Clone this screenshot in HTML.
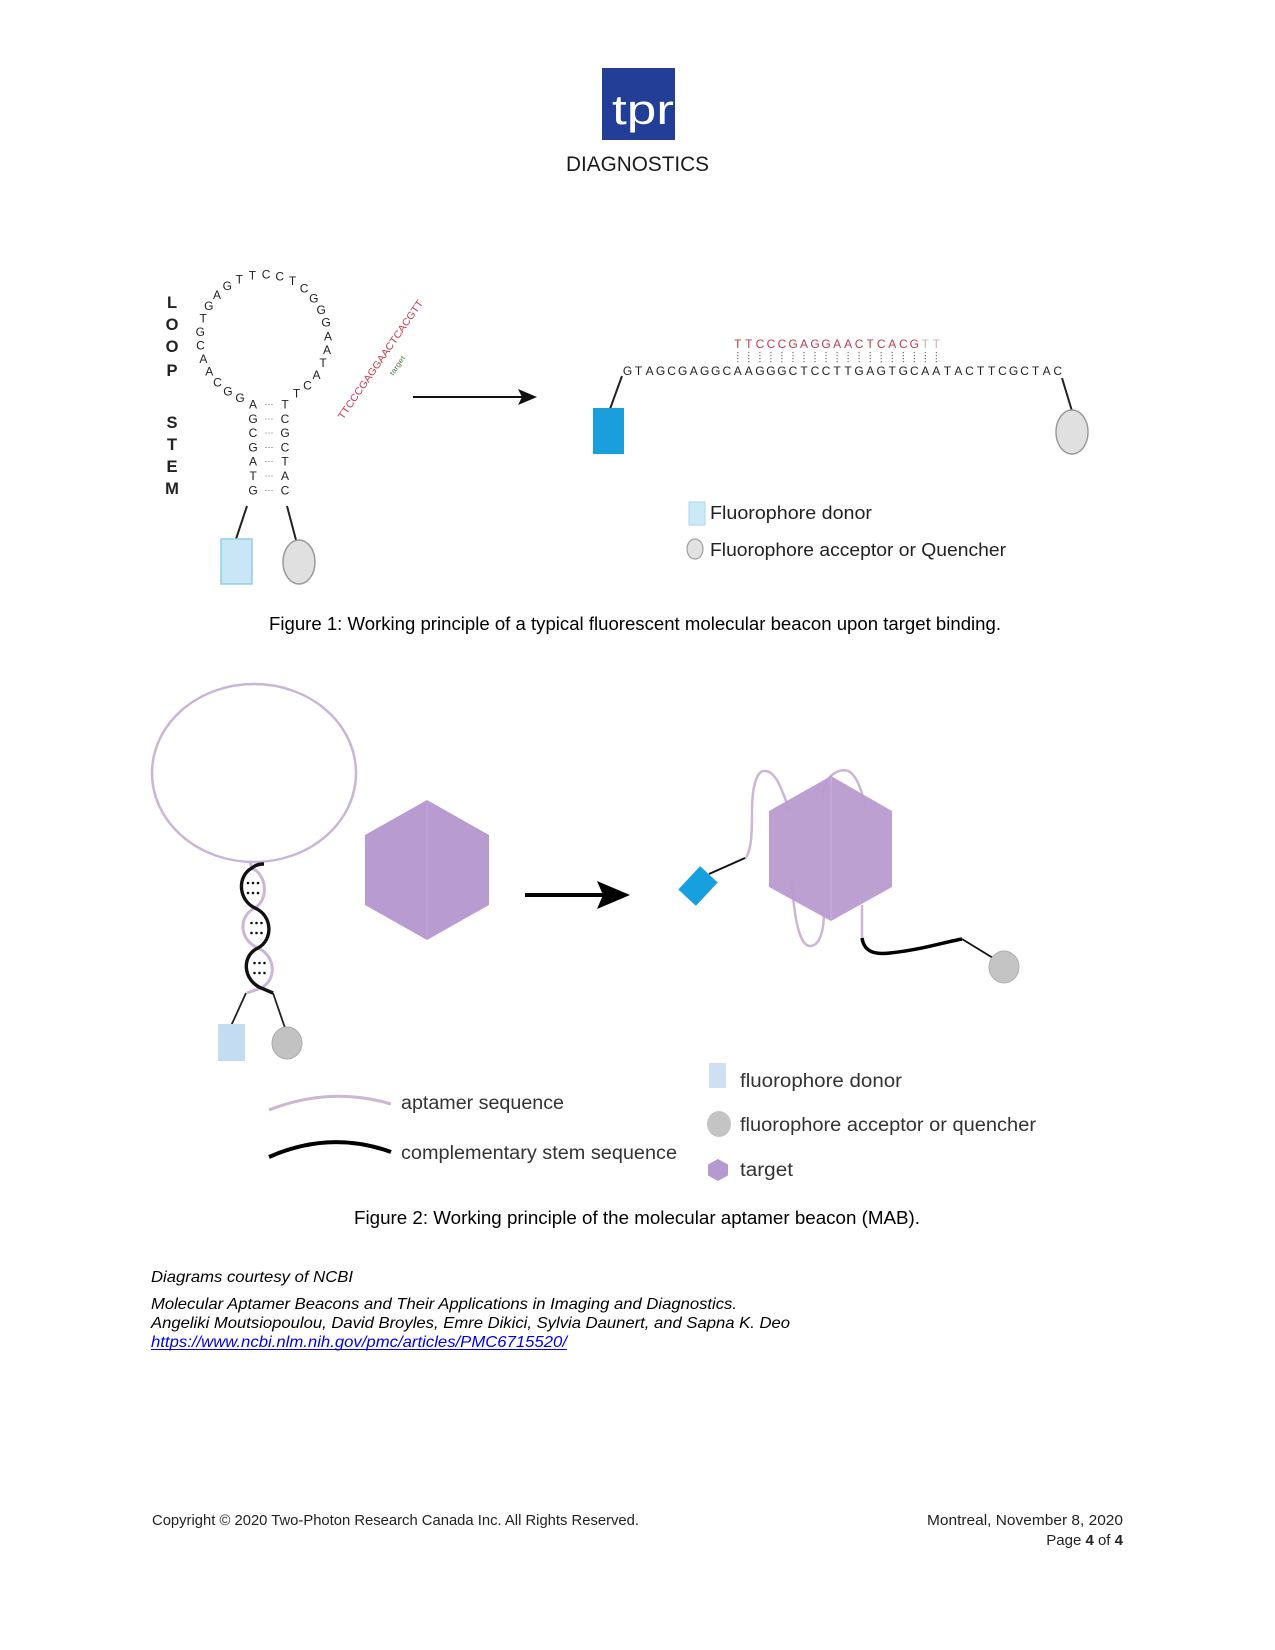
<!DOCTYPE html>
<html><head><meta charset="utf-8"><style>html,body{margin:0;padding:0;background:#fff}svg{display:block}</style></head>
<body>
<svg width="1275" height="1650" viewBox="0 0 1275 1650" xmlns="http://www.w3.org/2000/svg" font-family="Liberation Sans, Arial, sans-serif">
<rect width="1275" height="1650" fill="#fff"/>

<!-- Logo -->
<rect x="602" y="68" width="73" height="72" fill="#223e96"/>
<text x="612" y="124" font-size="42" fill="#fff" textLength="62" lengthAdjust="spacingAndGlyphs">tpr</text>
<text x="566" y="171" font-size="21" fill="#1a1a1a" textLength="143" lengthAdjust="spacingAndGlyphs">DIAGNOSTICS</text>

<!-- Figure 1 left -->
<g font-weight="bold" font-size="16.5" fill="#222" text-anchor="middle">
<text x="172" y="308">L</text><text x="172" y="330">O</text><text x="172" y="352">O</text><text x="172" y="376">P</text>
<text x="172" y="428">S</text><text x="172" y="450">T</text><text x="172" y="472">E</text><text x="172" y="494">M</text>
</g>
<text font-size="12" fill="#222" text-anchor="middle"
 x="240.0 227.9 217.5 209.2 203.4 200.4 200.3 203.2 208.8 217.0 227.3 239.3 252.4 266.1 279.7 292.6 304.1 313.8 321.2 326.0 328.0 327.0 323.1 316.5 307.5 296.5"
 y="401.8 395.4 386.5 375.6 363.1 349.7 336.0 322.6 310.1 299.1 290.1 283.5 279.5 278.5 280.5 285.2 292.6 302.3 313.8 326.7 340.3 353.9 367.1 379.1 389.5 397.6">GGCAACGTGAGTTCCTCGGGAATACT</text>
<text font-size="12" fill="#222" text-anchor="middle" x="253 253 253 253 253 253 253" y="408.5 422.8 437.1 451.4 465.7 480 494.3">AGCGATG</text>
<text font-size="12" fill="#222" text-anchor="middle" x="285 285 285 285 285 285 285" y="408.5 422.8 437.1 451.4 465.7 480 494.3">TCGCTAC</text>
<g font-size="9" fill="#555" text-anchor="middle">
<text x="269" y="407">···</text><text x="269" y="421.3">···</text><text x="269" y="435.6">···</text><text x="269" y="449.9">···</text><text x="269" y="464.2">···</text><text x="269" y="478.5">···</text><text x="269" y="492.8">···</text>
</g>
<line x1="247" y1="506" x2="236" y2="539" stroke="#222" stroke-width="2"/>
<line x1="287" y1="506" x2="296" y2="540" stroke="#222" stroke-width="2"/>
<rect x="221" y="539" width="31" height="45" fill="#c8e6f5" stroke="#93cde3" stroke-width="1.5"/>
<ellipse cx="299" cy="562" rx="16" ry="22" fill="#e0e0e0" stroke="#9a9a9a" stroke-width="1.5"/>

<text transform="translate(343,420) rotate(-55.5)" font-size="10" fill="#cc3a4b" textLength="142" lengthAdjust="spacingAndGlyphs">TTCCCGAGGAACTCACGTT</text>
<text transform="translate(393,376) rotate(-55.5)" font-size="7" fill="#4f7f4f" textLength="22" lengthAdjust="spacingAndGlyphs">target</text>

<!-- Figure 1 arrow -->
<line x1="413" y1="397" x2="524" y2="397" stroke="#111" stroke-width="2"/>
<polygon points="518,389 537,397 518,405 522,397" fill="#111"/>

<!-- Figure 1 right -->
<line x1="610" y1="409" x2="622" y2="376" stroke="#222" stroke-width="2"/>
<rect x="593" y="408" width="31" height="46" fill="#1a9fdc"/>
<text font-size="12" fill="#222" text-anchor="middle" y="375"
 x="627.5 638.5 649.6 660.6 671.6 682.7 693.7 704.7 715.7 726.8 737.8 748.8 759.9 770.9 781.9 793.0 804.0 815.0 826.0 837.1 848.1 859.1 870.2 881.2 892.2 903.3 914.3 925.3 936.3 947.4 958.4 969.4 980.5 991.5 1002.5 1013.6 1024.6 1035.6 1046.6 1057.7">GTAGCGAGGCAAGGGCTCCTTGAGTGCAATACTTCGCTAC</text>
<text font-size="12" fill="#c23a4a" text-anchor="middle" y="348"
 x="737.8 748.8 759.9 770.9 781.9 793.0 804.0 815.0 826.0 837.1 848.1 859.1 870.2 881.2 892.2 903.3 914.3">TTCCCGAGGAACTCACG</text>
<text font-size="12" fill="#c9b4b6" text-anchor="middle" y="348" x="925.3 936.3">TT</text>
<path d="M737.8 352V363M748.8 352V363M759.9 352V363M770.9 352V363M781.9 352V363M793 352V363M804 352V363M815 352V363M826 352V363M837.1 352V363M848.1 352V363M859.1 352V363M870.2 352V363M881.2 352V363M892.2 352V363M903.3 352V363M914.3 352V363M925.3 352V363M936.3 352V363" stroke="#555" stroke-width="1" stroke-dasharray="1.2 1.8"/>
<line x1="1062" y1="378" x2="1072" y2="411" stroke="#222" stroke-width="2"/>
<ellipse cx="1072" cy="432" rx="16" ry="22" fill="#e0e0e0" stroke="#9a9a9a" stroke-width="1.5"/>

<!-- Figure 1 legend -->
<rect x="689" y="502" width="16" height="23" fill="#cde9f7" stroke="#a8d6ec" stroke-width="1"/>
<text x="710" y="519" font-size="18" fill="#222" textLength="162" lengthAdjust="spacingAndGlyphs">Fluorophore donor</text>
<ellipse cx="695" cy="549" rx="8" ry="10" fill="#e2e2e2" stroke="#a0a0a0" stroke-width="1.2"/>
<text x="710" y="556" font-size="18" fill="#222" textLength="296" lengthAdjust="spacingAndGlyphs">Fluorophore acceptor or Quencher</text>

<text x="269" y="630" font-size="18.5" fill="#000" textLength="732" lengthAdjust="spacingAndGlyphs">Figure 1: Working principle of a typical fluorescent molecular beacon upon target binding.</text>

<!-- Figure 2 left -->
<ellipse cx="254" cy="773" rx="102" ry="89" fill="none" stroke="#c9b5d8" stroke-width="2.5"/>
<path d="M250,862 L252,868 C268,876 268,900 255,908 C238,916 239,940 258,948 C276,956 277,980 261,988 L247,993" fill="none" stroke="#cbb6d6" stroke-width="3"/>
<path d="M264,864 C258,864 254,866 252,868 C237,876 238,900 255,908 C273,916 273,940 258,948 C241,956 243,980 261,988 L273,993" fill="none" stroke="#111" stroke-width="3.4"/>
<g fill="#111">
<circle cx="248" cy="883" r="1.3"/><circle cx="253" cy="883" r="1.3"/><circle cx="258" cy="883" r="1.3"/>
<circle cx="248" cy="893" r="1.3"/><circle cx="253" cy="893" r="1.3"/><circle cx="258" cy="893" r="1.3"/>
<circle cx="251.5" cy="923" r="1.3"/><circle cx="256.5" cy="923" r="1.3"/><circle cx="261.5" cy="923" r="1.3"/>
<circle cx="251.5" cy="933" r="1.3"/><circle cx="256.5" cy="933" r="1.3"/><circle cx="261.5" cy="933" r="1.3"/>
<circle cx="254.5" cy="963" r="1.3"/><circle cx="259.5" cy="963" r="1.3"/><circle cx="264.5" cy="963" r="1.3"/>
<circle cx="254.5" cy="973" r="1.3"/><circle cx="259.5" cy="973" r="1.3"/><circle cx="264.5" cy="973" r="1.3"/>
</g>
<line x1="246" y1="993" x2="231" y2="1026" stroke="#222" stroke-width="1.8"/>
<line x1="273" y1="993" x2="285" y2="1028" stroke="#222" stroke-width="1.8"/>
<rect x="218" y="1024" width="27" height="37" fill="#c3dcf2"/>
<ellipse cx="287" cy="1043" rx="15" ry="16" fill="#c2c2c2" stroke="#aaa" stroke-width="1"/>

<polygon points="427,800 489,835 489,905 427,940 365,905 365,835" fill="#b89bd0"/>
<line x1="427" y1="802" x2="427" y2="938" stroke="#c2a6d8" stroke-width="2" opacity="0.6"/>

<!-- Figure 2 arrow -->
<line x1="525" y1="895" x2="603" y2="895" stroke="#000" stroke-width="4"/>
<polygon points="597,881 630,895 597,909 603,895" fill="#000"/>

<!-- Figure 2 right -->
<path d="M745,859 C752,850 752,830 752,810 C752,790 756,771 764,771 C776,770 782,790 790,812" fill="none" stroke="#cbb6d6" stroke-width="2.5"/>
<path d="M822,800 C822,776 840,766 850,772 C858,778 862,792 866,808" fill="none" stroke="#cbb6d6" stroke-width="2.5"/>
<path d="M792,880 C794,920 800,946 810,946 C820,946 824,930 824,912" fill="none" stroke="#cbb6d6" stroke-width="2.5"/>
<polygon points="831,776 892,811 892,887 831,921 769,887 769,811" fill="#b99bd0" opacity="0.95"/>
<line x1="831" y1="778" x2="831" y2="919" stroke="#c8aede" stroke-width="2" opacity="0.6"/>
<path d="M862,905 L862,940" fill="none" stroke="#cbb6d6" stroke-width="2.5"/>
<path d="M862,938 C864,952 875,955 890,953 C920,950 945,942 962,939" fill="none" stroke="#000" stroke-width="3.5"/>
<line x1="962" y1="939" x2="993" y2="958" stroke="#111" stroke-width="1.8"/>
<ellipse cx="1004" cy="967" rx="15" ry="16" fill="#c4c4c4" stroke="#b0b0b0" stroke-width="1"/>
<line x1="709" y1="874" x2="745" y2="858" stroke="#111" stroke-width="1.8"/>
<rect x="686" y="870" width="24" height="32" fill="#16a0e0" transform="rotate(43 698 886)"/>

<!-- Figure 2 legend -->
<path d="M269,1110 Q330,1086 391,1104" fill="none" stroke="#cbb6d6" stroke-width="3"/>
<text x="401" y="1109" font-size="19" fill="#333" textLength="163" lengthAdjust="spacingAndGlyphs">aptamer sequence</text>
<path d="M269,1157 Q330,1130 391,1152" fill="none" stroke="#000" stroke-width="4"/>
<text x="401" y="1159" font-size="19" fill="#333" textLength="276" lengthAdjust="spacingAndGlyphs">complementary stem sequence</text>

<rect x="709" y="1063" width="17" height="25" fill="#cfe0f3"/>
<text x="740" y="1087" font-size="19" fill="#333" textLength="162" lengthAdjust="spacingAndGlyphs">fluorophore donor</text>
<ellipse cx="719" cy="1124" rx="12" ry="13" fill="#c4c4c4"/>
<text x="740" y="1131" font-size="19" fill="#333" textLength="296" lengthAdjust="spacingAndGlyphs">fluorophore acceptor or quencher</text>
<polygon points="718,1159 728,1164.5 728,1175.5 718,1181 708,1175.5 708,1164.5" fill="#b49acf"/>
<text x="740" y="1176" font-size="19" fill="#333" textLength="53" lengthAdjust="spacingAndGlyphs">target</text>

<text x="354" y="1224" font-size="18.5" fill="#000" textLength="566" lengthAdjust="spacingAndGlyphs">Figure 2: Working principle of the molecular aptamer beacon (MAB).</text>

<!-- References -->
<g font-style="italic" font-size="16" fill="#000">
<text x="151" y="1282" textLength="202" lengthAdjust="spacingAndGlyphs">Diagrams courtesy of NCBI</text>
<text x="151" y="1309" textLength="586" lengthAdjust="spacingAndGlyphs">Molecular Aptamer Beacons and Their Applications in Imaging and Diagnostics.</text>
<text x="151" y="1328" textLength="639" lengthAdjust="spacingAndGlyphs">Angeliki Moutsiopoulou, David Broyles, Emre Dikici, Sylvia Daunert, and Sapna K. Deo</text>
<text x="151" y="1347" fill="#0000ee" textLength="416" lengthAdjust="spacingAndGlyphs">https://www.ncbi.nlm.nih.gov/pmc/articles/PMC6715520/</text>
</g>
<line x1="151" y1="1349.5" x2="567" y2="1349.5" stroke="#0000ee" stroke-width="1"/>

<!-- Footer -->
<text x="152" y="1525" font-size="15" fill="#222" textLength="487" lengthAdjust="spacingAndGlyphs">Copyright © 2020 Two-Photon Research Canada Inc. All Rights Reserved.</text>
<text x="1123" y="1525" font-size="15" fill="#222" text-anchor="end" textLength="196" lengthAdjust="spacingAndGlyphs">Montreal, November 8, 2020</text>
<text x="1123" y="1545" font-size="15" fill="#222" text-anchor="end">Page <tspan font-weight="bold">4</tspan> of <tspan font-weight="bold">4</tspan></text>
</svg>
</body></html>
